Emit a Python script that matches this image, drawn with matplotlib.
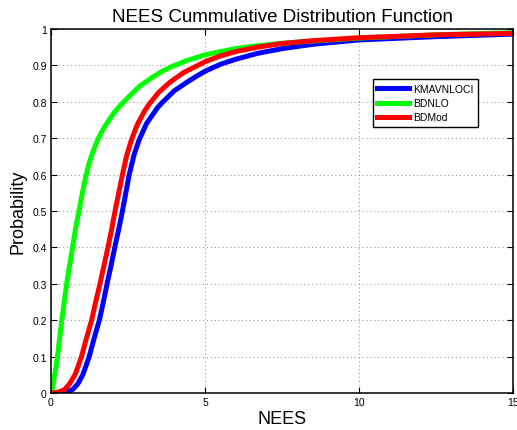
import matplotlib
matplotlib.use("Agg")
import matplotlib.pyplot as plt

plt.rcParams['font.family'] = ['Liberation Sans', 'DejaVu Sans']

# values (NEES -> probability)
nees_bdnlo = [0, 0.05, 0.1, 0.15, 0.21, 0.28, 0.35, 0.43, 0.51, 0.6,
              0.70, 0.8, 0.92, 1.02, 1.13, 1.24, 1.35, 1.45, 1.57, 1.73,
              1.9, 2.05, 2.23, 2.55, 2.88, 3.2, 3.53, 3.9, 4.4, 4.7,
              5, 5.5, 6, 6.5, 7.5, 8.5, 10, 12.5, 15]
prob_bdnlo = [0, 0.015, 0.04, 0.065, 0.1, 0.15, 0.2, 0.25, 0.3, 0.35,
              0.4, 0.453, 0.505, 0.55, 0.595, 0.632, 0.66, 0.682, 0.705, 0.73,
              0.752, 0.77, 0.788, 0.816, 0.843, 0.862, 0.88, 0.896, 0.913, 0.921,
              0.929, 0.938, 0.946, 0.952, 0.961, 0.967, 0.975, 0.984, 0.99]

nees_bdmod = [0, 0.1, 0.2, 0.3, 0.45, 0.6, 0.78, 0.88, 0.99, 1.15,
              1.32, 1.45, 1.59, 1.72, 1.85, 1.97, 2.08, 2.2, 2.32, 2.45,
              2.61, 2.8, 3.04, 3.2, 3.5, 3.85, 4.3, 5, 5.5, 6,
              6.7, 7.5, 8.5, 10, 12.5, 15]
prob_bdmod = [0, 0.0005, 0.002, 0.004, 0.01, 0.025, 0.05, 0.073, 0.1, 0.15,
              0.2, 0.25, 0.3, 0.35, 0.4, 0.45, 0.5, 0.55, 0.6, 0.65,
              0.695, 0.737, 0.775, 0.795, 0.826, 0.853, 0.88, 0.91, 0.926, 0.938,
              0.95, 0.96, 0.968, 0.976, 0.984, 0.988]

nees_kmav = [0, 0.2, 0.4, 0.55, 0.71, 0.87, 1.03, 1.13, 1.24, 1.4,
             1.57, 1.7, 1.82, 1.95, 2.07, 2.2, 2.32, 2.43, 2.54, 2.7,
             2.86, 3.1, 3.45, 3.6, 4.0, 4.4, 4.7, 5, 5.5, 6,
             6.7, 7.5, 8.5, 10, 12.5, 15]
prob_kmav = [0, 0, 0.001, 0.004, 0.01, 0.025, 0.05, 0.073, 0.1, 0.15,
             0.2, 0.25, 0.3, 0.35, 0.4, 0.45, 0.5, 0.55, 0.6, 0.655,
             0.695, 0.74, 0.783, 0.797, 0.83, 0.853, 0.869, 0.884, 0.903, 0.917,
             0.933, 0.946, 0.958, 0.97, 0.979, 0.986]

xticks = [0, 5, 10, 15]
yticks = [0, 0.1, 0.2, 0.3, 0.4, 0.5, 0.6, 0.7, 0.8, 0.9, 1]
ytick_labels = ['0', '0.1', '0.2', '0.3', '0.4', '0.5', '0.6', '0.7', '0.8', '0.9', '1']

fig = plt.figure(figsize=(5.17, 4.31), dpi=100)
ax = fig.add_axes([51 / 517, 37 / 431, 462 / 517, 364 / 431])

lw = 3.6
ax.plot(nees_kmav, prob_kmav, color='#0000ff', lw=lw, label='KMAVNLOCI')
ax.plot(nees_bdnlo, prob_bdnlo, color='#00ff00', lw=lw, label='BDNLO')
ax.plot(nees_bdmod, prob_bdmod, color='#ff0000', lw=lw, label='BDMod')

ax.set_xlim(0, 15)
ax.set_ylim(0, 1)
ax.set_xticks(xticks)
ax.set_xticklabels([str(t) for t in xticks])
ax.set_yticks(yticks)
ax.set_yticklabels(ytick_labels)
ax.tick_params(direction='in', top=True, right=True, length=4, width=0.8,
               labelsize=7.5, pad=3)
ax.grid(True, linestyle=(0, (1, 3)), color='#888888', linewidth=0.7)
ax.set_axisbelow(True)
for s in ax.spines.values():
    s.set_linewidth(1.1)

ax.set_title('NEES Cummulative Distribution Function', fontsize=13.5, pad=6)
ax.set_xlabel('NEES', fontsize=13, labelpad=2)
ax.set_ylabel('Probability', fontsize=13, labelpad=4)

leg = ax.legend(loc='upper right', bbox_to_anchor=(0.935, 0.876), fontsize=7.5,
                fancybox=False, framealpha=1, edgecolor='black',
                handlelength=3.0, borderpad=0.45, labelspacing=0.4,
                handletextpad=0.4)
leg.get_frame().set_linewidth(1.0)

fig.savefig('out.png', dpi=100)
